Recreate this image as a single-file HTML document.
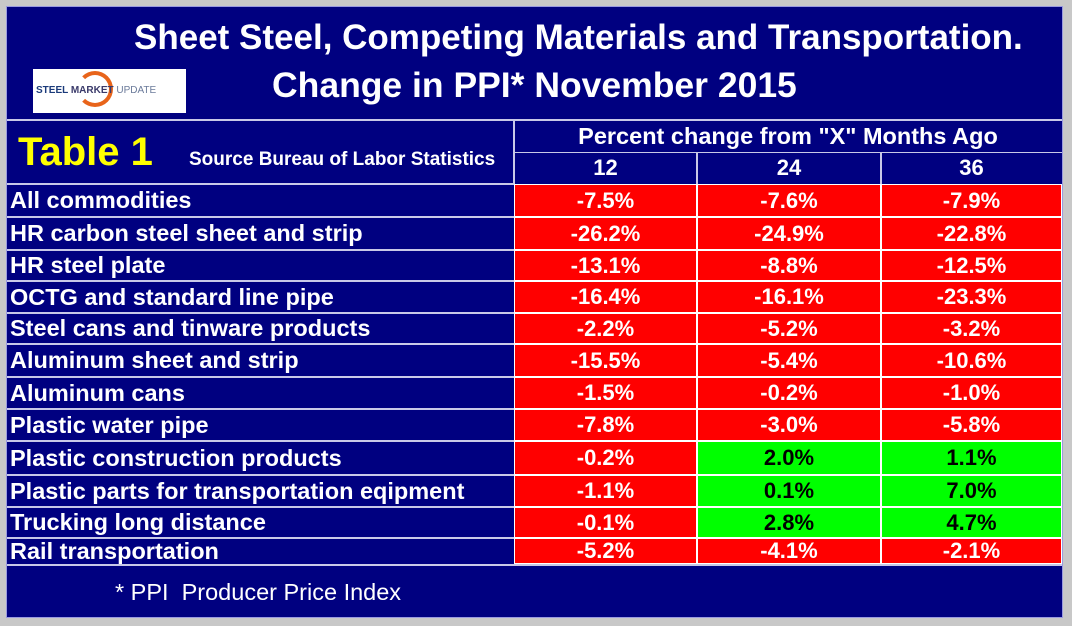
<!DOCTYPE html>
<html><head><meta charset="utf-8"><style>
body{margin:0;width:1072px;height:626px;background:#c8c8c8;font-family:"Liberation Sans",Arial,sans-serif;overflow:hidden;position:relative}
#panel{position:absolute;left:6px;top:6px;width:1057px;height:612px;background:#000080;border:1px solid #9a9ae0;box-sizing:border-box}
.t{position:absolute;color:#fff;font-weight:bold;white-space:nowrap}
.line{position:absolute;background:#c8c8e8}
.cell{position:absolute;box-sizing:border-box;border:1px solid #fff;color:#fff;font-weight:bold;font-size:22px;text-align:center}
.lab{position:absolute;color:#fff;font-weight:bold;font-size:23.5px;left:10px;white-space:nowrap}
</style></head><body>
<div id="panel"></div>
<div class="t" style="left:134px;top:18px;font-size:35px">Sheet Steel, Competing Materials and Transportation.</div>
<div class="t" style="left:272px;top:65px;font-size:35.5px">Change in PPI* November 2015</div>
<div style="position:absolute;left:33px;top:69px;width:153px;height:44px;background:#fff;overflow:hidden">
<div style="position:absolute;left:44px;top:2px;width:36px;height:36px;border-radius:50%;border:4px solid #e8641a;border-left-color:transparent;box-sizing:border-box"></div>
<div style="position:absolute;left:3px;top:16px;font-size:10px;font-weight:bold;color:#1a3a7a;white-space:nowrap">STEEL <span style="color:#3a3a6a">MARKET</span> <span style="font-weight:normal;color:#6a7a9a">UPDATE</span></div></div>
<div class="line" style="left:7px;top:119px;width:1055px;height:2px"></div>
<div class="t" style="left:18px;top:130px;font-size:40px;color:#ffff00">Table 1</div>
<div class="t" style="left:189px;top:149px;font-size:19px">Source Bureau of Labor Statistics</div>
<div class="t" style="left:514px;width:548px;text-align:center;top:123px;font-size:23.5px">Percent change from "X" Months Ago</div>
<div class="line" style="left:513px;top:120px;width:2px;height:64px"></div>
<div class="line" style="left:514px;top:152px;width:548px;height:1px"></div>
<div class="line" style="left:696px;top:152px;width:2px;height:32px"></div>
<div class="line" style="left:880px;top:152px;width:2px;height:32px"></div>
<div id="rows"></div>
<div class="line" style="left:7px;top:564px;width:1055px;height:2px"></div>
<div class="t" style="left:115px;top:579px;font-size:23.5px;font-weight:normal">* PPI &nbsp;Producer Price Index</div>
<script>
const months=["12","24","36"];
const categories=["All commodities","HR carbon steel sheet and strip","HR steel plate","OCTG and standard line pipe","Steel cans and tinware products","Aluminum sheet and strip","Aluminum cans","Plastic water pipe","Plastic construction products","Plastic parts for transportation eqipment","Trucking long distance","Rail transportation"];
const m12=[-7.5,-26.2,-13.1,-16.4,-2.2,-15.5,-1.5,-7.8,-0.2,-1.1,-0.1,-5.2];
const m24=[-7.6,-24.9,-8.8,-16.1,-5.2,-5.4,-0.2,-3.0,2.0,0.1,2.8,-4.1];
const m36=[-7.9,-22.8,-12.5,-23.3,-3.2,-10.6,-1.0,-5.8,1.1,7.0,4.7,-2.1];
const series=[m12,m24,m36];
const rowTops=[184,217,250,281,313,344,377,409,441,475,507,538,564];
const colX=[514,697,881,1062];
const root=document.getElementById('rows');
months.forEach((m,j)=>{
 const h=document.createElement('div');h.className='t';
 
 
 h.style.cssText=`left:${colX[j]}px;width:${colX[j+1]-colX[j]}px;text-align:center;top:155px;font-size:22px`;
 h.textContent=m;root.appendChild(h);
});
categories.forEach((c,i)=>{
 const top=rowTops[i],h=rowTops[i+1]-top;
 const ln=document.createElement('div');ln.className='line';
 ln.style.cssText=`left:7px;top:${top-1}px;width:507px;height:2px`;root.appendChild(ln);
 const l=document.createElement('div');l.className='lab';
 
 
 l.style.top=(top+(h-27)/2)+'px';l.textContent=c;root.appendChild(l);
 series.forEach((s,j)=>{
  const v=s[i];const d=document.createElement('div');d.className='cell';
  
  
  const pos=v>0;
  d.style.cssText=`left:${colX[j]}px;top:${top}px;width:${colX[j+1]-colX[j]}px;height:${h}px;line-height:${h-2}px;background:${pos?'#00ff00':'#ff0000'};color:${pos?'#000':'#fff'}`;
  d.textContent=v.toFixed(1)+'%';root.appendChild(d);
 });
});
</script>
</body></html>
